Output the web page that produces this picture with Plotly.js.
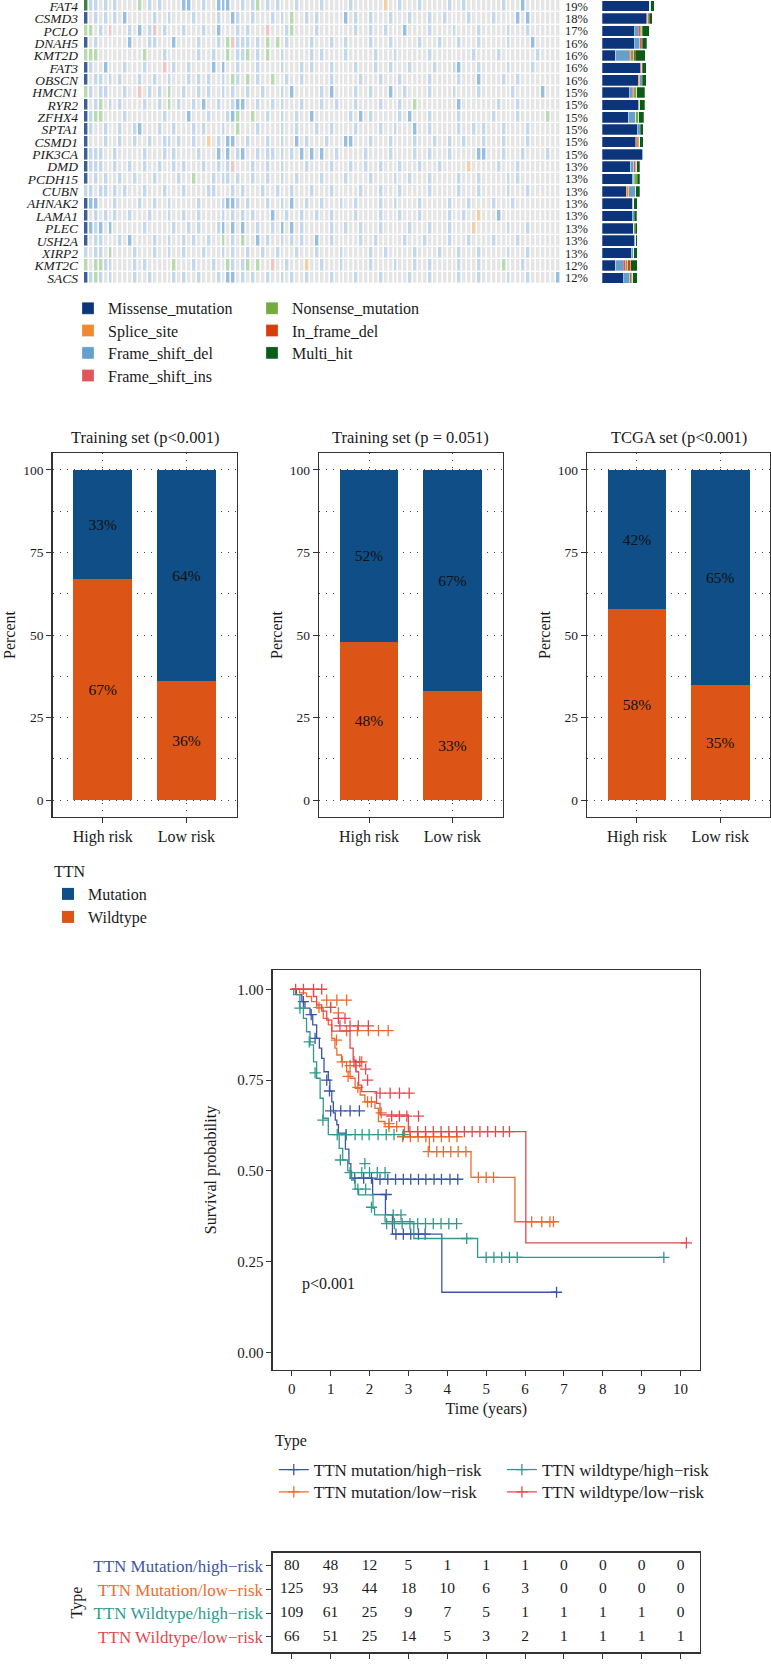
<!DOCTYPE html>
<html><head><meta charset="utf-8">
<script src="https://cdn.plot.ly/plotly-3.0.1.min.js"></script>
<style>html,body{margin:0;padding:0;background:#fff}#chart{width:771px;height:1667px}</style>
</head><body><div id="chart"></div>
<script>
// ---------------- DATA ----------------
const genes = ['FAT4','CSMD3','PCLO','DNAH5','KMT2D','FAT3','OBSCN','HMCN1','RYR2','ZFHX4','SPTA1','CSMD1','PIK3CA','DMD','PCDH15','CUBN','AHNAK2','LAMA1','PLEC','USH2A','XIRP2','KMT2C','SACS'];
const genePct = ['19%','18%','17%','16%','16%','16%','16%','15%','15%','15%','15%','15%','15%','13%','13%','13%','13%','13%','13%','13%','13%','12%','12%'];
const mutTypes = ['Missense_mutation','Splice_site','Frame_shift_del','Frame_shift_ins','Nonsense_mutation','In_frame_del','Multi_hit'];
const mutColors = ['#0B347A','#F08A30','#64A0CB','#E0545A','#74AB3F','#D83C0B','#0D5B17'];
// mutation counts per gene (stacked bar on the right)
const cntMissense = [65,61,44,44,19,52,49,37,49,36,48,46,55,39,41,33,42,41,43,44,40,19,29];
const cntSplice   = [0,1,0,0,0,0,2,0,0,0,0,3,0,0,0,3,0,0,0,0,0,0,0];
const cntFsDel    = [0,1,5,7,18,0,4,4,0,10,4,2,1,4,2,9,1,3,0,2,3,10,9];
const cntFsIns    = [0,0,3,2,2,2,0,2,0,0,0,0,0,3,1,0,0,0,0,0,0,3,2];
const cntNonsense = [1,0,2,0,4,0,0,4,2,4,0,0,0,1,4,1,0,0,2,0,0,3,2];
const cntInFrame  = [0,1,1,2,2,1,0,0,0,0,0,0,0,0,0,0,0,0,0,0,0,4,0];
const cntMulti    = [5,4,9,6,14,5,5,11,7,7,4,5,0,4,3,5,5,3,3,2,5,9,6];
// oncoplot cells: type letter + sample column (b/B blue, g green, r pink, o orange, D dark blue, G dark green)
const nSamples = 97;
const oncoCells = [
 "G0 b1 b2 b4 b6 g11 b13 b15 B20 B21 b24 B27 B28 B29 b32 b34 g35 b37 b39 b43 b48 b54 o61 b64 b68 b74 b77 b85 B89",
 "D0 b2 b4 b6 B8 b14 b17 b22 b27 B30 b31 b34 b38 b40 g42 b45 b47 B53 b55 b58 b62 b66 b70 b73 b78 b83 B88 B90",
 "g0 g1 b3 r5 b9 B11 b13 r14 b16 b20 b24 B27 b31 b33 r37 b41 g42 b47 b55 b58 b61 B65 b70 b75 b80 b86 b90",
 "D0 b2 B9 b13 b14 B18 b23 b27 g29 r30 b31 b32 b33 b35 g37 g39 b41 b46 b50 b53 b58 b62 b68 b72 b76 b80 b86 B91",
 "g0 g1 g2 g12 b16 b23 b26 g29 b31 b32 g33 b35 g37 b40 b46 b48 b53 b59 b63 b70 b79 b84 b92",
 "D0 b1 B4 b8 b12 r16 b18 b21 B26 B28 b31 b35 b40 b44 b46 b50 b55 b59 b62 b66 b71 b75 B76 b80 b86 b91",
 "D0 b2 b3 b5 b7 b11 b14 b17 b21 b23 b25 b28 g30 b31 g33 b35 g38 b41 b44 b50 b56 b60 b64 b70 b76 B80 b85 b88",
 "g0 b1 b3 b4 b8 r11 b13 b15 g17 b20 b23 b25 b28 b30 b33 b36 b40 B42 b48 B50 b55 b58 B62 b65 b70 b75 b80 b87 B93",
 "D0 b2 g3 b5 b7 b12 b15 g17 b19 b22 B24 b27 b30 B31 B32 b35 b38 b40 b44 b48 b51 b55 b60 b64 g67 B76 b84 b88",
 "D0 b1 g2 g3 b8 b16 B21 b25 b29 B30 g31 g34 b37 b40 b43 B46 b54 B56 b58 b64 B66 b70 b76 b83 b88 g94",
 "D0 b1 b4 b7 b10 B11 b15 b18 b22 b24 b28 g31 b35 b40 b43 b47 b50 b55 b60 b63 B67 b70 b76 b79 b81 b85 b90",
 "D0 b4 b7 b10 b13 b16 b17 b19 b22 o25 b27 B29 B30 b33 b37 b40 B43 b45 b49 B53 B54 b58 b62 b67 b71 b74 b77 b81 b85 b90",
 "D0 b1 b2 b3 b6 b12 b16 b18 b23 B27 B29 b31 B32 b35 b37 b38 b40 b42 B44 B46 B48 b51 b57 b62 b67 b70 b74 B80 B81 b85 b89 b94",
 "D0 b1 b2 b3 b6 b9 b12 b15 b18 b20 b24 b27 b29 r30 b34 b37 b40 b45 b50 b54 b57 b60 b64 b68 b72 o78 b84 b88",
 "D0 b2 b4 b7 b10 b14 b19 g22 b26 b28 b29 b31 b34 b37 b40 b43 b48 b53 b58 b63 b66 b70 b76 b80 b86 b88",
 "b0 b1 b3 b4 b6 b8 b12 b16 b20 b25 b26 b30 b32 b36 b39 b42 b46 b50 b56 b60 b64 b70 b76 b80 b86 b90",
 "D0 B1 B2 b6 b11 b14 b17 b23 b28 B29 B30 b31 b33 b37 b40 B42 b45 b48 b52 b55 b60 b63 b68 b74 b78 b83 b87",
 "D0 b2 b4 b6 b9 b13 b17 b20 b23 b28 b30 b32 b34 B38 b41 b44 b47 b50 b55 b60 b64 b68 b74 b77 o80 B84",
 "D0 B1 b2 B3 B5 b12 b18 b21 b23 b27 B28 B30 B32 b35 b38 B40 B42 b44 b50 b53 b56 b60 b66 b70 b74 o79 b86 b90",
 "D0 b2 b3 b7 B9 b14 b17 b20 b22 b25 g28 b30 g32 B35 b37 b40 b42 b44 B47 b50 b56 b59 b65 b69 b74 b78 b83 b88",
 "b0 b2 b3 g5 b10 b14 b17 b20 b24 b28 b30 b33 b36 b39 b43 b47 b52 b58 b61 b67 b72 b76 b80 b86 b90",
 "g0 g2 g3 b4 b5 b10 b12 g18 b22 b26 g29 b30 b32 g33 g35 r38 b41 o45 b48 b52 b58 b63 b67 b70 b76 b80 g85 b89",
 "D0 b1 g2 b3 b5 b10 b13 b18 b20 b23 b27 B29 B30 b32 b34 b37 b40 b42 b45 b50 b55 b60 b66 b70 b76 b80 b86 b90 B96"
];
const cellCodes = {b:1,B:2,g:3,r:4,o:5,D:6,G:7};
const cellColors = ['#E5E5E5','#C3D8EC','#96BEE0','#B8DAAF','#F2C4C4','#F5CFA2','#3D5F98','#3F7F42'];

// TTN mutation status by risk group (percent)
const riskGroups = ['High risk','Low risk'];
const panelTitles = ['Training set (p<0.001)','Training set (p = 0.051)','TCGA set (p<0.001)'];
const ttnMutation = [[33,64],[52,67],[42,65]];
const ttnWildtype = [[67,36],[48,33],[58,35]];
const ttnColors = {Mutation:'#0F4E87', Wildtype:'#DC5416'};

// Kaplan-Meier curves
const kmNames = ['TTN mutation/high\u2212risk','TTN mutation/low\u2212risk','TTN wildtype/high\u2212risk','TTN wildtype/low\u2212risk'];
const kmColors = ['#3B55A6','#EE6B2B','#2E9A8D','#E4474E'];
const blueT = [0,0.12,0.26,0.34,0.47,0.54,0.64,0.71,0.77,0.83,0.94,0.98,1.03,1.07,1.12,1.16,1.2,1.38,1.47,1.52,2.08,2.41,2.59,3.86,6.81];
const blueS = [1,0.985,0.966,0.948,0.93,0.902,0.865,0.838,0.81,0.773,0.75,0.719,0.69,0.66,0.64,0.627,0.604,0.56,0.52,0.48,0.435,0.379,0.326,0.166,0.166];
const blueCensT = [0.3,0.5,0.6,0.9,0.97,1.0,1.26,1.5,1.74,1.4,1.62,1.85,2.05,2.27,2.47,2.67,2.87,3.06,3.26,3.45,3.66,3.85,4.07,4.27,2.43,2.68,2.87,3.06,3.26,3.43];
const blueCensS = [0.966,0.93,0.865,0.75,0.72,0.665,0.665,0.665,0.665,0.6,0.48,0.48,0.48,0.477,0.477,0.477,0.477,0.477,0.477,0.477,0.477,0.477,0.477,0.477,0.435,0.326,0.326,0.326,0.326,0.326];
const orangeT = [0,0.2,0.38,0.51,0.64,0.81,0.94,1.03,1.11,1.16,1.28,1.41,1.5,1.63,1.76,1.88,2.14,2.23,2.4,2.9,3.54,4.61,5.74,6.73];
const orangeS = [1,0.99,0.98,0.966,0.948,0.92,0.902,0.865,0.838,0.819,0.8,0.773,0.755,0.727,0.709,0.69,0.672,0.636,0.622,0.594,0.553,0.482,0.36,0.36];
const orangeCensT = [0.9,1.16,1.41,0.7,1.0,1.2,1.41,1.69,1.97,2.23,2.48,1.15,1.3,1.5,1.65,1.8,1.45,1.7,1.95,2.05,2.3,2.5,2.5,2.7,2.85,3.05,3.25,3.45,3.65,3.85,4.05,4.25,3.51,3.73,3.9,4.09,4.28,4.48,4.8,5.0,5.19,6.17,6.43,6.64];
const orangeCensS = [0.97,0.97,0.97,0.95,0.95,0.935,0.886,0.886,0.886,0.886,0.886,0.86,0.8,0.79,0.79,0.8,0.76,0.73,0.69,0.69,0.66,0.63,0.622,0.622,0.594,0.594,0.594,0.594,0.594,0.594,0.594,0.594,0.553,0.553,0.553,0.553,0.553,0.553,0.482,0.482,0.482,0.36,0.36,0.36];
const tealT = [0,0.05,0.21,0.3,0.38,0.47,0.56,0.64,0.73,0.81,0.94,1.22,1.31,1.44,1.54,1.63,1.72,2.09,2.13,2.4,3.14,4.78,9.57];
const tealS = [1,0.985,0.948,0.92,0.883,0.847,0.8,0.755,0.7,0.645,0.6,0.562,0.53,0.5,0.475,0.45,0.434,0.397,0.379,0.36,0.314,0.262,0.262];
const tealCensT = [0.21,0.45,0.6,0.8,1.17,1.4,1.63,1.81,1.99,2.22,2.43,2.63,2.87,1.25,1.88,1.5,1.8,2.0,2.2,2.4,1.7,1.9,2.05,2.61,2.81,2.44,2.64,2.84,3.04,3.24,3.44,3.64,3.84,4.04,4.24,4.5,5.0,5.2,5.4,5.6,5.8];
const tealCensS = [0.948,0.855,0.77,0.64,0.6,0.6,0.6,0.6,0.6,0.6,0.6,0.6,0.6,0.53,0.52,0.495,0.495,0.495,0.495,0.495,0.45,0.45,0.4,0.379,0.379,0.355,0.355,0.355,0.355,0.355,0.355,0.355,0.355,0.355,0.355,0.314,0.262,0.262,0.262,0.262,0.262];
const redT = [0,0.56,0.64,0.77,0.9,1.03,1.5,1.58,1.65,1.72,1.8,2.18,2.27,3.0,6.02,10.15];
const redS = [1,0.98,0.957,0.94,0.915,0.885,0.838,0.805,0.773,0.736,0.718,0.686,0.654,0.608,0.302,0.302];
const redCensT = [0.1,0.3,0.56,0.77,1.0,1.2,1.37,1.24,1.5,1.71,1.97,1.6,1.75,1.9,1.95,2.27,2.53,2.77,3.02,2.57,2.77,2.96,3.26,3.04,3.24,3.44,3.64,3.84,4.04,4.24,4.44,4.64,4.84,5.04,5.24,5.44,5.6];
const redCensS = [1,1,1,1,0.95,0.92,0.92,0.899,0.899,0.899,0.899,0.8,0.8,0.78,0.75,0.714,0.714,0.714,0.714,0.651,0.651,0.651,0.651,0.608,0.608,0.608,0.608,0.608,0.608,0.608,0.608,0.608,0.608,0.608,0.608,0.608,0.608];
// last censored observation of each curve
const endCensT = [6.81,6.73,9.57,10.15];
const endCensS = [0.166,0.36,0.262,0.302];

// Number at risk table
const riskTimes = [0,1,2,3,4,5,6,7,8,9,10];
const riskLabels = ['TTN Mutation/high\u2212risk','TTN Mutation/low\u2212risk','TTN Wildtype/high\u2212risk','TTN Wildtype/low\u2212risk'];
const riskMutHigh = [80,48,12,5,1,1,1,0,0,0,0];
const riskMutLow  = [125,93,44,18,10,6,3,0,0,0,0];
const riskWtHigh  = [109,61,25,9,7,5,1,1,1,1,0];
const riskWtLow   = [66,51,25,14,5,3,2,1,1,1,1];
const timeTicks = [0,1,2,3,4,5,6,7,8,9,10];

// ---------------- BUILD ----------------
const W = 771, H = 1667;
const F = "'Liberation Serif','Times New Roman',serif";
const px = v => v / W, py = v => 1 - v / H;
const traces = [];
const layout = {
  width: W, height: H, margin: {l:0, r:0, t:0, b:0},
  paper_bgcolor: '#fff', plot_bgcolor: 'rgba(0,0,0,0)',
  font: {family: F, size: 14, color: '#1a1a1a'},
  showlegend: true, hovermode: false, barmode: 'stack', bargap: 0.13,
  annotations: []
};

// oncoplot heatmap
const z = oncoCells.map(s => {
  const row = new Array(nSamples).fill(0);
  s.trim().split(/\s+/).forEach(tok => { row[parseInt(tok.slice(1), 10)] = cellCodes[tok[0]]; });
  return row;
});
const nC = cellColors.length;
const cs = [];
cellColors.forEach((c, i) => { cs.push([i / nC, c]); cs.push([(i + 1) / nC, c]); });
traces.push({type:'heatmap', z: z, x: Array.from({length: nSamples}, (_, i) => i), y: genes,
  colorscale: cs, zmin: -0.5, zmax: nC - 0.5, showscale: false, xgap: 1.6, ygap: 1.4,
  xaxis: 'x', yaxis: 'y', showlegend: false, hoverinfo: 'skip'});
const onYDom = [py(284), 1];
layout.xaxis = {domain: [px(84), px(560.6)], anchor: 'y', range: [-0.5, nSamples - 0.5], visible: false};
layout.yaxis = {domain: onYDom, anchor: 'x', type: 'category', categoryorder: 'array', categoryarray: genes,
  range: [genes.length - 0.5, -0.5], showgrid: false, zeroline: false, ticks: '',
  tickmode: 'array', tickvals: genes, ticktext: genes,
  ticklabelstandoff: 5, tickfont: {family: F, size: 13.5, style: 'italic', color: '#1a1a1a'}};

// gene bar chart
const counts = [cntMissense, cntSplice, cntFsDel, cntFsIns, cntNonsense, cntInFrame, cntMulti];
const oncoLegendPos = [[108,308.3],[108,330.7],[108,353],[108,375.7],[292,308.3],[292,330.7],[292,353]];
mutTypes.forEach((t, i) => {
  const lg = 'legend' + (i === 0 ? '' : (i + 1));
  traces.push({type:'bar', orientation:'h', name: t, x: counts[i], y: genes, width: 0.86,
    marker: {color: mutColors[i], line: {color: 'rgba(255,255,255,0.55)', width: 0.5}},
    xaxis: 'x2', yaxis: 'y2', legend: lg, hoverinfo: 'skip'});
});
layout.xaxis2 = {domain: [px(602), px(675.6)], anchor: 'y2', range: [0, 100], visible: false};
layout.yaxis2 = {domain: onYDom, anchor: 'x2', type: 'category', categoryorder: 'array', categoryarray: genes,
  range: [genes.length - 0.5, -0.5], showgrid: false, zeroline: false, ticks: '', showline: false,
  tickmode: 'array', tickvals: genes, ticktext: genePct, ticklabelstandoff: 13,
  tickfont: {family: F, size: 12.5, color: '#1a1a1a'}};

// legends helper
function addLegend(key, textX, centerY, size) {
  layout[key] = {x: px(textX - 40), y: py(centerY), xanchor: 'left', yanchor: 'middle',
    orientation: 'v', bgcolor: 'rgba(0,0,0,0)', borderwidth: 0,
    font: {family: F, size: size || 16, color: '#1a1a1a'}};
}
mutTypes.forEach((t, i) => addLegend('legend' + (i === 0 ? '' : (i + 1)), oncoLegendPos[i][0], oncoLegendPos[i][1]));

// TTN bar panels
const panelX = [[52.5,236.6],[319,502.5],[587,770.2]];
const panelY = [py(816.7), py(453.3)];
const gridDash = '1px,6px';
for (let p = 0; p < 3; p++) {
  const xa = 'x' + (p + 3), ya = 'y' + (p + 3);
  traces.push({type:'bar', name:'Wildtype', x: riskGroups, y: ttnWildtype[p], width: 0.705,
    marker: {color: ttnColors.Wildtype}, text: ttnWildtype[p].map(v => v + '%'),
    textposition: 'inside', insidetextanchor: 'middle', textangle: 0, constraintext: 'none',
    textfont: {family: F, size: 15.5, color: '#111'}, xaxis: xa, yaxis: ya,
    showlegend: p === 0, legend: 'legend9', hoverinfo: 'skip'});
  traces.push({type:'bar', name:'Mutation', x: riskGroups, y: ttnMutation[p], width: 0.705,
    marker: {color: ttnColors.Mutation}, text: ttnMutation[p].map(v => v + '%'),
    textposition: 'inside', insidetextanchor: 'middle', textangle: 0, constraintext: 'none',
    textfont: {family: F, size: 15.5, color: '#111'}, xaxis: xa, yaxis: ya,
    showlegend: p === 0, legend: 'legend8', hoverinfo: 'skip'});
  layout['xaxis' + (p + 3)] = {domain: [px(panelX[p][0]), px(panelX[p][1])], anchor: ya,
    type: 'category', range: [-0.6, 1.6], showline: true, mirror: true, linecolor: '#333', linewidth: 1.3,
    ticks: 'outside', ticklen: 5, tickcolor: '#333', showgrid: true, griddash: gridDash,
    gridcolor: '#444', gridwidth: 1, zeroline: false, tickfont: {family: F, size: 16, color: '#1a1a1a'}};
  layout['yaxis' + (p + 3)] = {domain: panelY, anchor: xa, range: [-5.05, 105.05],
    tickmode: 'array', tickvals: [0,25,50,75,100], showline: true, mirror: true, linecolor: '#333', linewidth: 1.3,
    ticks: 'outside', ticklen: 5, tickcolor: '#333', showgrid: true, griddash: gridDash,
    gridcolor: '#444', gridwidth: 1, zeroline: false,
    minor: {tickmode: 'array', tickvals: [12.5,37.5,62.5,87.5], showgrid: true, griddash: gridDash, gridcolor: '#444', gridwidth: 1, ticks: ''},
    tickfont: {family: F, size: 13.5, color: '#1a1a1a'},
    title: {text: 'Percent', font: {family: F, size: 16, color: '#1a1a1a'}, standoff: 3}};
  layout.annotations.push({text: panelTitles[p], xref: 'paper', yref: 'paper',
    x: px((panelX[p][0] + panelX[p][1]) / 2), y: py(437.7), xanchor: 'center', yanchor: 'middle',
    showarrow: false, font: {family: F, size: 16.5, color: '#1a1a1a'}});
}
addLegend('legend8', 88, 894);
addLegend('legend9', 88, 917);
layout.annotations.push({text: 'TTN', xref: 'paper', yref: 'paper', x: px(52), y: py(871.7),
  xanchor: 'left', yanchor: 'middle', showarrow: false, font: {family: F, size: 16, color: '#1a1a1a'}});

// KM curves
const kmLines = [[blueT, blueS],[orangeT, orangeS],[tealT, tealS],[redT, redS]];
const kmCens = [[blueCensT, blueCensS],[orangeCensT, orangeCensS],[tealCensT, tealCensS],[redCensT, redCensS]];
const kmLegendKeys = ['legend10','legend11','legend12','legend13'];
const kmLegendPos = [[313.8,1470],[313.8,1492.3],[541.9,1470],[541.9,1492.3]];
for (let k = 0; k < 4; k++) {
  traces.push({type:'scatter', mode:'lines', x: kmLines[k][0], y: kmLines[k][1],
    line: {color: kmColors[k], width: 1.3, shape: 'hv'}, xaxis: 'x6', yaxis: 'y6', showlegend: false, hoverinfo: 'skip'});
  traces.push({type:'scatter', mode:'markers', x: kmCens[k][0], y: kmCens[k][1],
    marker: {symbol: 'cross-thin', size: 8, line: {color: kmColors[k], width: 1.3}, color: kmColors[k]},
    xaxis: 'x6', yaxis: 'y6', showlegend: false, hoverinfo: 'skip'});
  traces.push({type:'scatter', mode:'lines+markers', name: kmNames[k], x: [endCensT[k]], y: [endCensS[k]],
    line: {color: kmColors[k], width: 1.3},
    marker: {symbol: 'cross-thin', size: 8, line: {color: kmColors[k], width: 1.3}, color: kmColors[k]},
    xaxis: 'x6', yaxis: 'y6', legend: kmLegendKeys[k], hoverinfo: 'skip'});
  addLegend(kmLegendKeys[k], kmLegendPos[k][0], kmLegendPos[k][1], 17);
}
const kmXDom = [px(272.7), px(700)];
const axisBase = {showline: true, mirror: true, linecolor: '#333', linewidth: 1.3, ticks: 'outside',
  ticklen: 5, tickcolor: '#333', showgrid: false, zeroline: false};
layout.xaxis6 = Object.assign({}, axisBase, {domain: kmXDom, anchor: 'y6', range: [-0.49, 10.5],
  tickmode: 'array', tickvals: timeTicks, tickfont: {family: F, size: 15, color: '#1a1a1a'},
  title: {text: 'Time (years)', font: {family: F, size: 16, color: '#1a1a1a'}, standoff: 6}});
layout.yaxis6 = Object.assign({}, axisBase, {domain: [py(1370), py(970)], anchor: 'x6', range: [-0.048, 1.053],
  tickmode: 'array', tickvals: [0,0.25,0.5,0.75,1], ticktext: ['0.00','0.25','0.50','0.75','1.00'],
  tickfont: {family: F, size: 15, color: '#1a1a1a'},
  title: {text: 'Survival probability', font: {family: F, size: 16, color: '#1a1a1a'}, standoff: 16}});
layout.annotations.push({text: 'p<0.001', xref: 'x6', yref: 'y6', x: 0.2, y: 0.19, xanchor: 'left', yanchor: 'middle',
  showarrow: false, font: {family: F, size: 16, color: '#1a1a1a'}});
layout.annotations.push({text: 'Type', xref: 'paper', yref: 'paper', x: px(273), y: py(1440.7),
  xanchor: 'left', yanchor: 'middle', showarrow: false, font: {family: F, size: 16, color: '#1a1a1a'}});

// risk table
const riskRows = [riskMutHigh, riskMutLow, riskWtHigh, riskWtLow];
riskRows.forEach((row, i) => {
  traces.push({type:'scatter', mode:'text', x: riskTimes, y: riskTimes.map(() => i), text: row.map(String),
    textposition: 'middle center', textfont: {family: F, size: 15.5, color: '#1a1a1a'},
    xaxis: 'x7', yaxis: 'y7', showlegend: false, hoverinfo: 'skip'});
});
layout.xaxis7 = Object.assign({}, axisBase, {domain: kmXDom, anchor: 'y7', range: [-0.49, 10.5],
  tickmode: 'array', tickvals: timeTicks, tickfont: {family: F, size: 15, color: '#1a1a1a'}});
layout.yaxis7 = Object.assign({}, axisBase, {domain: [py(1652.3), py(1552.7)], anchor: 'x7', range: [3.65, -0.56],
  tickmode: 'array', tickvals: [0,1,2,3],
  ticktext: riskLabels.map((t, i) => '<span style="color:' + kmColors[i] + '">' + t + '</span>'),
  tickfont: {family: F, size: 17, color: '#1a1a1a'},
  title: {text: 'Type', font: {family: F, size: 16, color: '#1a1a1a'}, standoff: 6}});

Plotly.newPlot('chart', traces, layout, {staticPlot: true, displayModeBar: false});
</script></body></html>
